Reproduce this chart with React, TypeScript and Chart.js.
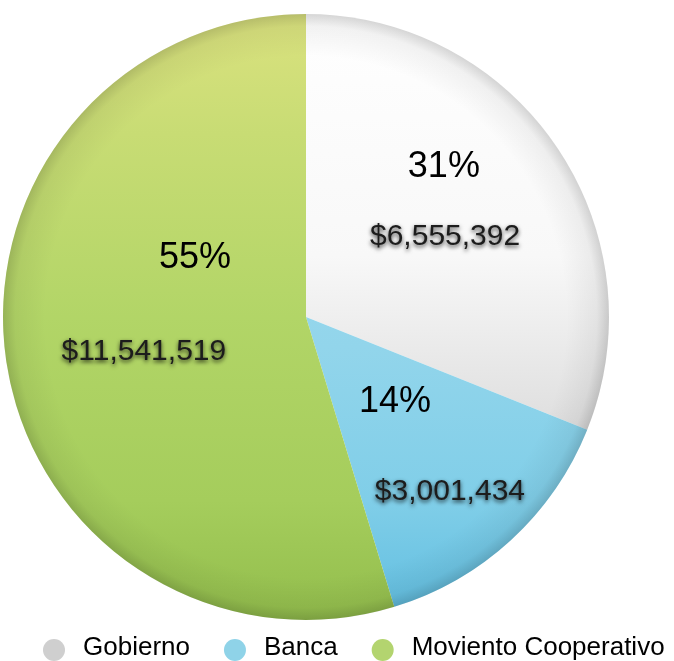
import React, { useEffect, useRef } from "react";
import { Chart, registerables } from "chart.js";

Chart.register(...registerables);

const categories = ["Gobierno", "Banca", "Moviento Cooperativo"];
const amounts = [6555392, 3001434, 11541519];
const legendColors = ["#cfcfcf", "#8fd3e8", "#b3d46f"];

// label offsets relative to pie center, as fractions of radius: [pctX, pctY, valX, valY]
const labelOffsets = [
  [0.455, -0.495, 0.459, -0.264],
  [0.294, 0.281, 0.475, 0.578],
  [-0.366, -0.195, -0.535, 0.116],
];

const FONT = '"Liberation Sans", Arial, Helvetica, sans-serif';

function sliceFill(ctx: any) {
  const chart = ctx.chart;
  const area = chart.chartArea;
  if (!area) return legendColors[ctx.dataIndex];
  const c = chart.ctx as CanvasRenderingContext2D;
  const top = area.top;
  const bottom = area.bottom;
  const i = ctx.dataIndex;
  const g = c.createLinearGradient(0, top, 0, bottom);
  if (i === 0) {
    g.addColorStop(0, "#ffffff");
    g.addColorStop(0.4, "#f8f8f8");
    g.addColorStop(0.75, "#d8d8d8");
    g.addColorStop(1, "#c8c8c8");
  } else if (i === 1) {
    g.addColorStop(0, "#a8def0");
    g.addColorStop(0.55, "#92d5eb");
    g.addColorStop(0.8, "#80cee8");
    g.addColorStop(1, "#5fbde0");
  } else {
    g.addColorStop(0, "#dbe27f");
    g.addColorStop(0.2, "#c8dc74");
    g.addColorStop(0.5, "#b2d567");
    g.addColorStop(0.8, "#a5cd5c");
    g.addColorStop(1, "#92bd4c");
  }
  return g;
}

const overlayPlugin = {
  id: "overlay",
  afterDatasetsDraw(chart: any) {
    const c = chart.ctx as CanvasRenderingContext2D;
    const meta = chart.getDatasetMeta(0);
    const arc = meta.data[0];
    if (!arc) return;
    const { x, y, outerRadius } = arc.getProps(["x", "y", "outerRadius"], true);
    const r = outerRadius;
    // rim shading
    c.save();
    const rg = c.createRadialGradient(x, y, 0, x, y, r);
    rg.addColorStop(0, "rgba(0,0,0,0)");
    rg.addColorStop(0.86, "rgba(0,0,0,0)");
    rg.addColorStop(0.96, "rgba(0,0,0,0.05)");
    rg.addColorStop(1, "rgba(0,0,0,0.16)");
    c.beginPath();
    c.arc(x, y, r, 0, Math.PI * 2);
    c.fillStyle = rg;
    c.fill();
    c.restore();

    // labels
    const total = amounts.reduce((a, b) => a + b, 0);
    amounts.forEach((v, i) => {
      const [px, py, vx, vy] = labelOffsets[i];
      const pct = Math.round((v / total) * 100) + "%";
      const val = "$" + v.toLocaleString("en-US");
      c.save();
      c.textAlign = "center";
      c.textBaseline = "middle";
      c.fillStyle = "#000000";
      c.font = `36px ${FONT}`;
      c.fillText(pct, x + px * r, y + py * r);
      c.font = `30px ${FONT}`;
      c.shadowColor = "rgba(0,0,0,0.75)";
      c.shadowBlur = 4;
      c.shadowOffsetX = 0;
      c.shadowOffsetY = 2;
      c.fillStyle = "#1c1c1c";
      c.fillText(val, x + vx * r, y + vy * r);
      c.restore();
    });
  },
  afterDraw(chart: any) {
    const c = chart.ctx as CanvasRenderingContext2D;
    const labels = chart.data.labels as string[];
    const startX = 54;
    const cy = 648;
    c.save();
    c.font = `26px ${FONT}`;
    c.textBaseline = "middle";
    c.textAlign = "left";
    let xPos = startX;
    labels.forEach((lab, i) => {
      c.beginPath();
      c.arc(xPos, cy + 2, 11, 0, Math.PI * 2);
      c.fillStyle = legendColors[i];
      c.fill();
      c.fillStyle = "#000000";
      c.fillText(lab, xPos + 29, cy);
      const w = c.measureText(lab).width;
      xPos = xPos + 29 + w + 45;
    });
    c.restore();
  },
};

export default function App() {
  const ref = useRef<HTMLCanvasElement | null>(null);
  useEffect(() => {
    if (!ref.current) return;
    const chart = new Chart(ref.current, {
      type: "pie",
      data: {
        labels: categories,
        datasets: [
          {
            data: amounts,
            backgroundColor: sliceFill as any,
            borderWidth: 0,
          },
        ],
      },
      options: {
        responsive: false,
        animation: false,
        devicePixelRatio: 1,
        layout: { padding: { top: 11, bottom: 38, left: 3, right: 65 } },
        plugins: {
          legend: { display: false },
          tooltip: { enabled: false },
        },
      },
      plugins: [overlayPlugin],
    });
    return () => chart.destroy();
  }, []);
  return (
    <div style={{ position: "fixed", left: 0, top: 0, width: 674, height: 661, background: "#ffffff" }}>
      <canvas ref={ref} width={674} height={661} style={{ display: "block" }} />
    </div>
  );
}
